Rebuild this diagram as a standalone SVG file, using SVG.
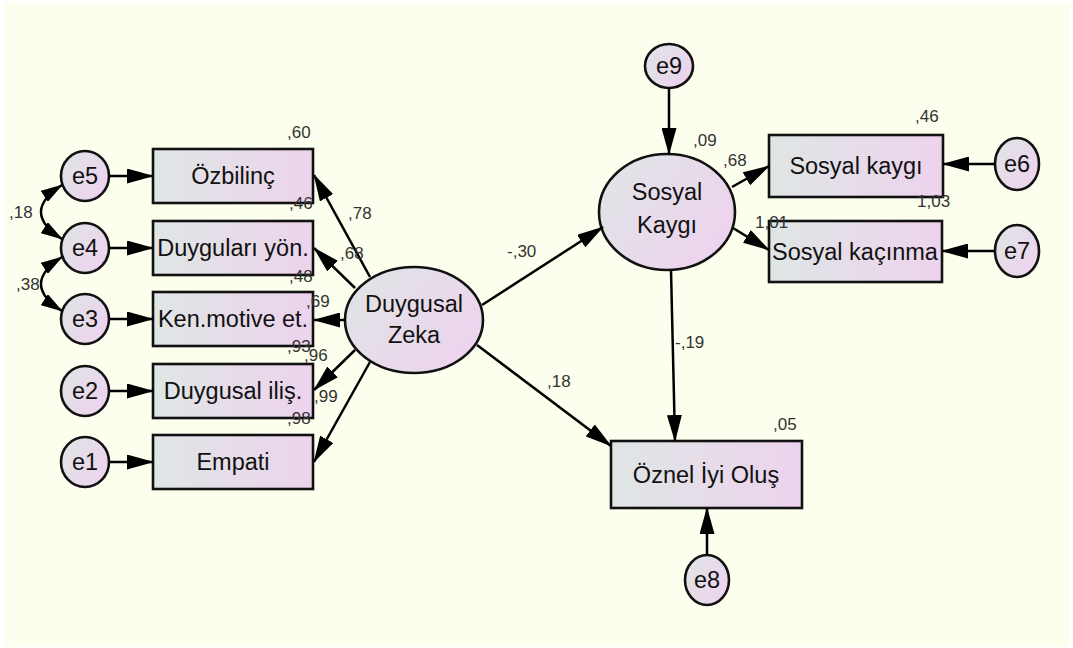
<svg xmlns="http://www.w3.org/2000/svg" width="1073" height="648" viewBox="0 0 1073 648">
<defs>
<linearGradient id="gb" x1="0" y1="0" x2="1" y2="0">
<stop offset="0" stop-color="#dfe6e5"/>
<stop offset="1" stop-color="#edd3ed"/>
</linearGradient>
<linearGradient id="ge" x1="0" y1="0.2" x2="1" y2="0.8">
<stop offset="0" stop-color="#e0e4e6"/>
<stop offset="1" stop-color="#eed2ee"/>
</linearGradient>
<marker id="ah" viewBox="0 0 27 15" refX="26" refY="7.5" markerWidth="27" markerHeight="15" markerUnits="userSpaceOnUse" orient="auto-start-reverse">
<path d="M0,0 L27,7.5 L0,15 z" fill="#000"/>
</marker>
<marker id="ahs" viewBox="0 0 22 13" refX="21" refY="6.5" markerWidth="22" markerHeight="13" markerUnits="userSpaceOnUse" orient="auto-start-reverse">
<path d="M0,0 L22,6.5 L0,13 z" fill="#000"/>
</marker>
</defs>
<style>
.box{fill:url(#gb);stroke:#111;stroke-width:2.6}
.ell{fill:url(#ge);stroke:#111;stroke-width:2.6}
.lbl{font-family:"Liberation Sans",Arial,sans-serif;font-size:23.5px;fill:#111;text-anchor:middle}
.num{font-family:"Liberation Sans",Arial,sans-serif;font-size:17px;fill:#333}
.c{fill:none;stroke:#000;stroke-width:2.5;marker-end:url(#ah)}
.cov{fill:none;stroke:#000;stroke-width:2.5;marker-start:url(#ahs);marker-end:url(#ahs)}
</style>
<rect x="0" y="0" width="1073" height="648" fill="#ffffff"/>
<rect x="5" y="3" width="1065" height="644" fill="#fdffee"/>

<g id="e5"><ellipse class="ell" cx="85" cy="176" rx="24" ry="25"/><text class="lbl" x="85" y="184">e5</text></g>
<g id="e4"><ellipse class="ell" cx="85" cy="248" rx="24" ry="25"/><text class="lbl" x="85" y="256">e4</text></g>
<g id="e3"><ellipse class="ell" cx="85" cy="319" rx="24" ry="25"/><text class="lbl" x="85" y="327">e3</text></g>
<g id="e2"><ellipse class="ell" cx="85" cy="391" rx="24" ry="25"/><text class="lbl" x="85" y="399">e2</text></g>
<g id="e1"><ellipse class="ell" cx="85" cy="462" rx="24" ry="25"/><text class="lbl" x="85" y="470">e1</text></g>

<g id="ozbilinc"><rect class="box" x="153" y="149" width="160" height="54"/><text class="lbl" x="233" y="184">Özbilinç</text></g>
<g id="duygulari"><rect class="box" x="153" y="221" width="160" height="54"/><text class="lbl" x="233" y="256">Duyguları yön.</text></g>
<g id="kenmotive"><rect class="box" x="153" y="292" width="160" height="54"/><text class="lbl" x="233" y="327">Ken.motive et.</text></g>
<g id="duygusalilis"><rect class="box" x="153" y="364" width="160" height="54"/><text class="lbl" x="233" y="399">Duygusal iliş.</text></g>
<g id="empati"><rect class="box" x="153" y="435" width="160" height="54"/><text class="lbl" x="233" y="470">Empati</text></g>

<g id="duygusalzeka"><ellipse class="ell" cx="414" cy="320" rx="69" ry="53"/><text class="lbl" x="414" y="312">Duygusal</text><text class="lbl" x="414" y="343">Zeka</text></g>
<g id="sosyalkaygi-latent"><ellipse class="ell" cx="667" cy="212" rx="68" ry="58"/><text class="lbl" x="667" y="200">Sosyal</text><text class="lbl" x="667" y="233">Kaygı</text></g>
<g id="e9"><ellipse class="ell" cx="669" cy="66" rx="24" ry="22"/><text class="lbl" x="669" y="74">e9</text></g>
<g id="sosyalkaygi"><rect class="box" x="769" y="135" width="174" height="62"/><text class="lbl" x="856" y="174">Sosyal kaygı</text></g>
<g id="sosyalkacinma"><rect class="box" x="769" y="221" width="173" height="61"/><text class="lbl" x="855" y="260">Sosyal kaçınma</text></g>
<g id="e6"><ellipse class="ell" cx="1017" cy="164" rx="22" ry="26"/><text class="lbl" x="1017" y="172">e6</text></g>
<g id="e7"><ellipse class="ell" cx="1017" cy="251" rx="22" ry="26"/><text class="lbl" x="1017" y="259">e7</text></g>
<g id="oznel"><rect class="box" x="611" y="441" width="191" height="67"/><text class="lbl" x="706" y="483">Öznel İyi Oluş</text></g>
<g id="e8"><ellipse class="ell" cx="707" cy="580" rx="22" ry="25"/><text class="lbl" x="707" y="588">e8</text></g>

<g id="connectors">
<line class="c" x1="109" y1="176" x2="153" y2="176"/>
<line class="c" x1="109" y1="248" x2="153" y2="248"/>
<line class="c" x1="109" y1="319" x2="153" y2="319"/>
<line class="c" x1="109" y1="391" x2="153" y2="391"/>
<line class="c" x1="109" y1="462" x2="153" y2="462"/>
<path class="cov" d="M62,185 Q20,212 62,239"/>
<path class="cov" d="M62,257 Q20,284 62,311"/>
<line class="c" x1="370" y1="277" x2="314" y2="175"/>
<line class="c" x1="355" y1="288" x2="314" y2="248"/>
<line class="c" x1="345" y1="320" x2="314" y2="320"/>
<line class="c" x1="355" y1="350" x2="314" y2="390"/>
<line class="c" x1="370" y1="362" x2="314" y2="462"/>
<line class="c" x1="482" y1="305" x2="603" y2="227"/>
<line class="c" x1="477" y1="345" x2="611" y2="446"/>
<line class="c" x1="669" y1="88" x2="669" y2="154"/>
<line class="c" x1="732" y1="187" x2="769" y2="166"/>
<line class="c" x1="733" y1="228" x2="769" y2="250"/>
<line class="c" x1="671" y1="270" x2="675" y2="441"/>
<line class="c" x1="995" y1="164" x2="943" y2="164"/>
<line class="c" x1="995" y1="251" x2="942" y2="251"/>
<line class="c" x1="707" y1="555" x2="707" y2="508"/>
</g>

<g id="estimates">
<text class="num" x="287" y="138">,60</text>
<text class="num" x="289" y="209">,46</text>
<text class="num" x="289" y="282">,48</text>
<text class="num" x="287" y="352">,93</text>
<text class="num" x="287" y="424">,98</text>
<text class="num" x="348" y="219">,78</text>
<text class="num" x="340" y="259">,68</text>
<text class="num" x="306" y="307">,69</text>
<text class="num" x="304" y="361">,96</text>
<text class="num" x="314" y="402">,99</text>
<text class="num" x="9" y="218">,18</text>
<text class="num" x="16" y="290">,38</text>
<text class="num" x="507" y="257">-,30</text>
<text class="num" x="547" y="387">,18</text>
<text class="num" x="675" y="348">-,19</text>
<text class="num" x="693" y="146">,09</text>
<text class="num" x="723" y="166">,68</text>
<text class="num" x="915" y="122">,46</text>
<text class="num" x="917" y="207">1,03</text>
<text class="num" x="755" y="228">1,01</text>
<text class="num" x="773" y="430">,05</text>
</g>
</svg>
